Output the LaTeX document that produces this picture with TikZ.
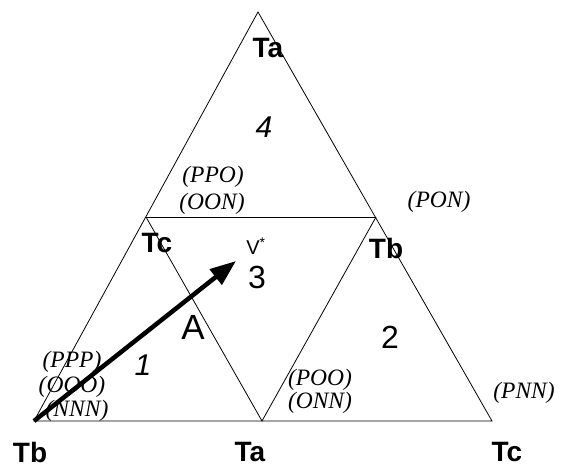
\documentclass[tikz,border=0pt]{standalone}
\usepackage{fontspec}
\setmainfont{Liberation Serif}
\newfontfamily\arialf{Liberation Sans}
\usetikzlibrary{arrows.meta}
\begin{document}
\begin{tikzpicture}[x=1pt,y=-1pt,
  edge/.style={line width=0.8pt,black},
  tlab/.style={font=\arialf\bfseries\fontsize{28}{28}\selectfont,inner sep=0pt},
  code/.style={font=\itshape\fontsize{23.5}{23.5}\selectfont,inner sep=0pt},
  region/.style={font=\arialf\fontsize{32}{32}\selectfont,inner sep=0pt},
  iregion/.style={font=\arialf\itshape\fontsize{30}{30}\selectfont,inner sep=0pt},
  bigarrow/.style={line width=4.5pt,-{Triangle[length=26pt,width=19pt]}}]
\useasboundingbox (0,0) rectangle (563,470);
\fill[white] (0,0) rectangle (563,470);
% vertices
\coordinate (T) at (258,12);
\coordinate (L) at (34,421);
\coordinate (R) at (492,421);
\coordinate (ML) at (146,217);
\coordinate (MR) at (376,217);
\coordinate (MB) at (262,421);
\coordinate (tip) at (236,261);
% triangle
\draw[edge] (T) -- (L) -- (R) -- cycle;
\draw[edge] (ML) -- (MR);
\draw[edge] (ML) -- (MB) -- (MR);
% arrow
\draw[bigarrow] (L) -- (tip);
% vertex labels
\node[tlab] (ta1) at (268,48) {Ta};
\node[tlab] (tc1) at (157,243) {Tc};
\node[tlab] (tb1) at (386,248) {Tb};
\node[tlab] (tb2) at (30,452) {Tb};
\node[tlab] (ta2) at (250,452) {Ta};
\node[tlab] (tc2) at (507,452) {Tc};
% region labels
\node[iregion] (r4) at (264,127) {4};
\node[region] (r3) at (257,277) {3};
\node[region] (r2) at (390,337) {2};
\node[iregion] (r1) at (143,365) {1};
\node[region,font=\arialf\fontsize{35}{35}\selectfont] (rA) at (193,327) {A};
\node[region,font=\arialf\fontsize{20}{20}\selectfont] (vs) at (256,246) {V\textsuperscript{*}};
% codes
\node[code] (ppo) at (213,177) {(PPO)};
\node[code] (oon) at (212,204) {(OON)};
\node[code] (pon) at (439,202) {(PON)};
\node[code] (ppp) at (72,362) {(PPP)};
\node[code] (ooo) at (72,387) {(OOO)};
\node[code] (nnn) at (77,411) {(NNN)};
\node[code] (poo) at (320,380) {(POO)};
\node[code] (onn) at (320,403) {(ONN)};
\node[code] (pnn) at (524,393) {(PNN)};
\end{tikzpicture}
\end{document}
